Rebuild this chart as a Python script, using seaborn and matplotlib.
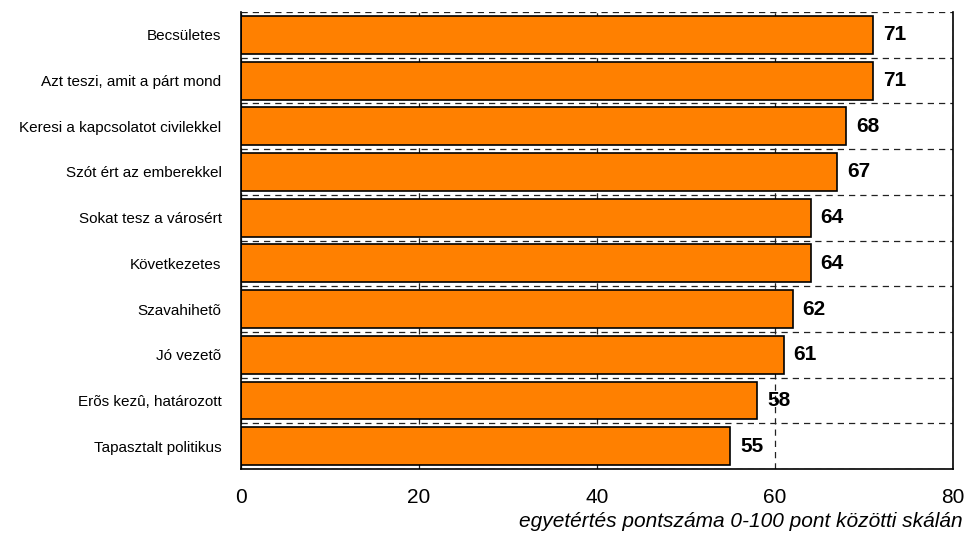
import pandas as pd
import seaborn as sns
import matplotlib.pyplot as plt
import numpy as np

# Data
traits = [
    "Becsületes",
    "Azt teszi, amit a párt mond",
    "Keresi a kapcsolatot civilekkel",
    "Szót ért az emberekkel",
    "Sokat tesz a városért",
    "Következetes",
    "Szavahihetõ",
    "Jó vezetõ",
    "Erõs kezû, határozott",
    "Tapasztalt politikus",
]
scores = [71, 71, 68, 67, 64, 64, 62, 61, 58, 55]
x_ticks = [0, 20, 40, 60, 80]

df = pd.DataFrame({"trait": traits, "score": scores})

sns.set_style("white")
plt.rcParams["font.family"] = ["Liberation Sans", "DejaVu Sans"]
plt.rcParams["text.color"] = "black"
plt.rcParams["axes.labelcolor"] = "black"
plt.rcParams["xtick.color"] = "black"
plt.rcParams["ytick.color"] = "black"

fig = plt.figure(figsize=(9.66, 5.33), dpi=100)
ax = fig.add_axes([0.2495, 0.12, 0.737, 0.8575])

sns.barplot(
    data=df, x="score", y="trait", orient="h",
    color="#FF8000", edgecolor="black", linewidth=1.2,
    width=0.83, saturation=1, ax=ax,
)

# value labels
for i, v in enumerate(scores):
    ax.text(v + 1.1, i, str(v), va="center", ha="left",
            fontsize=15, fontweight="bold")

ax.set_xlim(0, 80)
ax.set_ylim(len(traits) - 0.5, -0.5)
ax.set_xticks(x_ticks)
ax.set_xticklabels([str(t) for t in x_ticks], fontsize=15)
ax.set_yticks(range(len(traits)))
ax.set_yticklabels(traits, fontsize=11)
ax.set_yticks(np.arange(-0.5, len(traits), 1), minor=True)

ax.set_axisbelow(True)
ax.grid(axis="x", which="major", linestyle=(0, (5, 4)), color="#222222", linewidth=0.9)
ax.grid(axis="y", which="minor", linestyle=(0, (5, 4)), color="#222222", linewidth=0.9)
ax.grid(axis="y", which="major", visible=False)

ax.tick_params(axis="y", which="both", length=0, pad=14)
ax.tick_params(axis="x", length=0, pad=14)

for side in ["left", "right", "bottom"]:
    ax.spines[side].set_visible(True)
    ax.spines[side].set_color("black")
    ax.spines[side].set_linewidth(1.2)
ax.spines["top"].set_visible(False)

ax.set_ylabel("")
ax.set_xlabel("egyetértés pontszáma 0-100 pont közötti skálán",
              fontsize=15, style="italic", ha="right")
ax.xaxis.set_label_coords(1.013, -0.093)

plt.savefig("out.png", dpi=100)
